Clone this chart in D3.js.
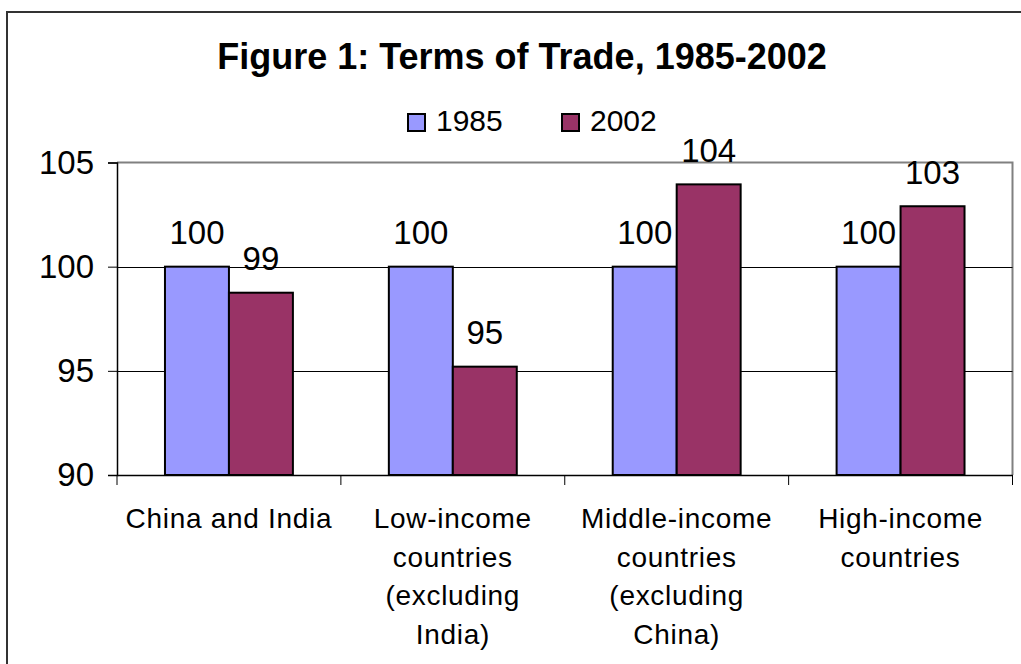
<!doctype html>
<html lang="en">
<head>
  <meta charset="utf-8">
  <title>Terms of Trade</title>
  <style>
    body { margin: 0; background: #fff; }
    text { font-family: Arial, "Liberation Sans", sans-serif; }
  </style>
</head>
<body>
<svg id="chart"></svg>
<script src="https://d3js.org/d3.v7.min.js"></script>
<script>
var width = 1021;
var height = 664;

// data
var categories = [
  ["China and India"],
  ["Low-income", "countries", "(excluding", "India)"],
  ["Middle-income", "countries", "(excluding", "China)"],
  ["High-income", "countries"]
];
var catKeys = ["china", "low", "middle", "high"];
var seriesNames = ["1985", "2002"];
var values1985 = [100, 100, 100, 100];
var values2002 = [98.75, 95.2, 103.95, 102.9];
var labels1985 = ["100", "100", "100", "100"];
var labels2002 = ["99", "95", "104", "103"];
var yTicks = [90, 95, 100, 105];
var colors = ["#9999ff", "#993366"];

var svg = d3.select("#chart")
  .attr("width", width)
  .attr("height", height);

// outer chart border
svg.append("rect")
  .attr("x", 7).attr("y", 12)
  .attr("width", width + 20).attr("height", height + 20)
  .style("fill", "#fff")
  .style("stroke", "#333")
  .style("stroke-width", 2);

var plot = { left: 117, right: 1012.5, top: 162.5, bottom: 475 };

var x0 = d3.scaleBand()
  .domain(catKeys)
  .range([plot.left, plot.right])
  .padding(0);

var x1 = d3.scaleBand()
  .domain(seriesNames)
  .range([0, x0.bandwidth()])
  .paddingInner(0)
  .paddingOuter(0.75);

var y = d3.scaleLinear()
  .domain([90, 105])
  .range([plot.bottom, plot.top]);

// plot area border (gray top / right)
svg.append("path")
  .attr("d", "M" + plot.left + "," + plot.top + "H" + plot.right + "V" + plot.bottom)
  .style("fill", "none")
  .style("stroke", "#808080")
  .style("stroke-width", 2);

// gridlines
svg.append("g").selectAll("line")
  .data(yTicks.filter(function(d) { return d > 90 && d < 105; }))
  .enter().append("line")
  .attr("x1", plot.left).attr("x2", plot.right)
  .attr("y1", function(d) { return Math.round(y(d)) + 0.5; })
  .attr("y2", function(d) { return Math.round(y(d)) + 0.5; })
  .style("stroke", "#000")
  .style("stroke-width", 1);

// y axis
var yAxis = svg.append("g")
  .attr("transform", "translate(" + plot.left + ",0)")
  .call(d3.axisLeft(y).tickValues(yTicks).tickSize(9).tickPadding(14));
yAxis.select(".domain").style("stroke", "#000").style("stroke-width", 1.5);
yAxis.selectAll(".tick line").style("stroke", "#000");
yAxis.selectAll(".tick text")
  .style("font-size", "33px")
  .style("font-family", "Arial, 'Liberation Sans', sans-serif")
  .attr("fill", "#000");

// x axis
var xAxis = svg.append("g")
  .attr("transform", "translate(0," + plot.bottom + ")")
  .call(d3.axisBottom(x0).tickSize(0).tickFormat(""));
xAxis.select(".domain").style("stroke", "#000").style("stroke-width", 1.5);
svg.append("g").selectAll("line")
  .data(catKeys.concat(["end"]))
  .enter().append("line")
  .attr("x1", function(d, i) { return i < catKeys.length ? x0(d) : plot.right; })
  .attr("x2", function(d, i) { return i < catKeys.length ? x0(d) : plot.right; })
  .attr("y1", plot.bottom).attr("y2", plot.bottom + 10)
  .style("stroke", "#000");

// category labels
var catLabels = svg.append("g").selectAll("text")
  .data(categories)
  .enter().append("text")
  .attr("text-anchor", "middle")
  .style("font-size", "28px")
  .style("letter-spacing", "0.7px")
  .attr("fill", "#000");
catLabels.each(function(lines, i) {
  var t = d3.select(this);
  var cx = x0(catKeys[i]) + x0.bandwidth() / 2;
  lines.forEach(function(line, j) {
    t.append("tspan")
      .attr("x", cx)
      .attr("y", 528 + j * 38.7)
      .text(line);
  });
});

// bars
var rows = catKeys.map(function(k, i) {
  return { key: k, vals: [
    { s: "1985", v: values1985[i], label: labels1985[i] },
    { s: "2002", v: values2002[i], label: labels2002[i] }
  ] };
});

var groups = svg.append("g").selectAll("g")
  .data(rows)
  .enter().append("g")
  .attr("transform", function(d) { return "translate(" + x0(d.key) + ",0)"; });

groups.selectAll("rect")
  .data(function(d) { return d.vals; })
  .enter().append("rect")
  .attr("x", function(d) { return x1(d.s); })
  .attr("width", x1.bandwidth())
  .attr("y", function(d) { return y(d.v); })
  .attr("height", function(d) { return y(90) - y(d.v); })
  .style("fill", function(d, i) { return colors[i]; })
  .style("stroke", "#000")
  .style("stroke-width", 2);

groups.selectAll("text")
  .data(function(d) { return d.vals; })
  .enter().append("text")
  .attr("x", function(d) { return x1(d.s) + x1.bandwidth() / 2; })
  .attr("y", function(d) { return y(d.v) - 22.5; })
  .attr("text-anchor", "middle")
  .style("font-size", "33px")
  .attr("fill", "#000")
  .text(function(d) { return d.label; });

// title
svg.append("text")
  .attr("x", 522)
  .attr("y", 69)
  .attr("text-anchor", "middle")
  .style("font-size", "36px")
  .style("font-weight", "bold")
  .attr("fill", "#000")
  .text("Figure 1: Terms of Trade, 1985-2002");

// legend
var legendX = [408, 562];
var legend = svg.append("g").selectAll("g")
  .data(seriesNames)
  .enter().append("g")
  .attr("transform", function(d, i) { return "translate(" + legendX[i] + ",114)"; });
legend.append("rect")
  .attr("width", 17).attr("height", 17)
  .style("fill", function(d, i) { return colors[i]; })
  .style("stroke", "#000")
  .style("stroke-width", 2);
legend.append("text")
  .attr("x", 28)
  .attr("y", 17)
  .style("font-size", "30px")
  .attr("fill", "#000")
  .text(function(d) { return d; });
</script>
</body>
</html>
